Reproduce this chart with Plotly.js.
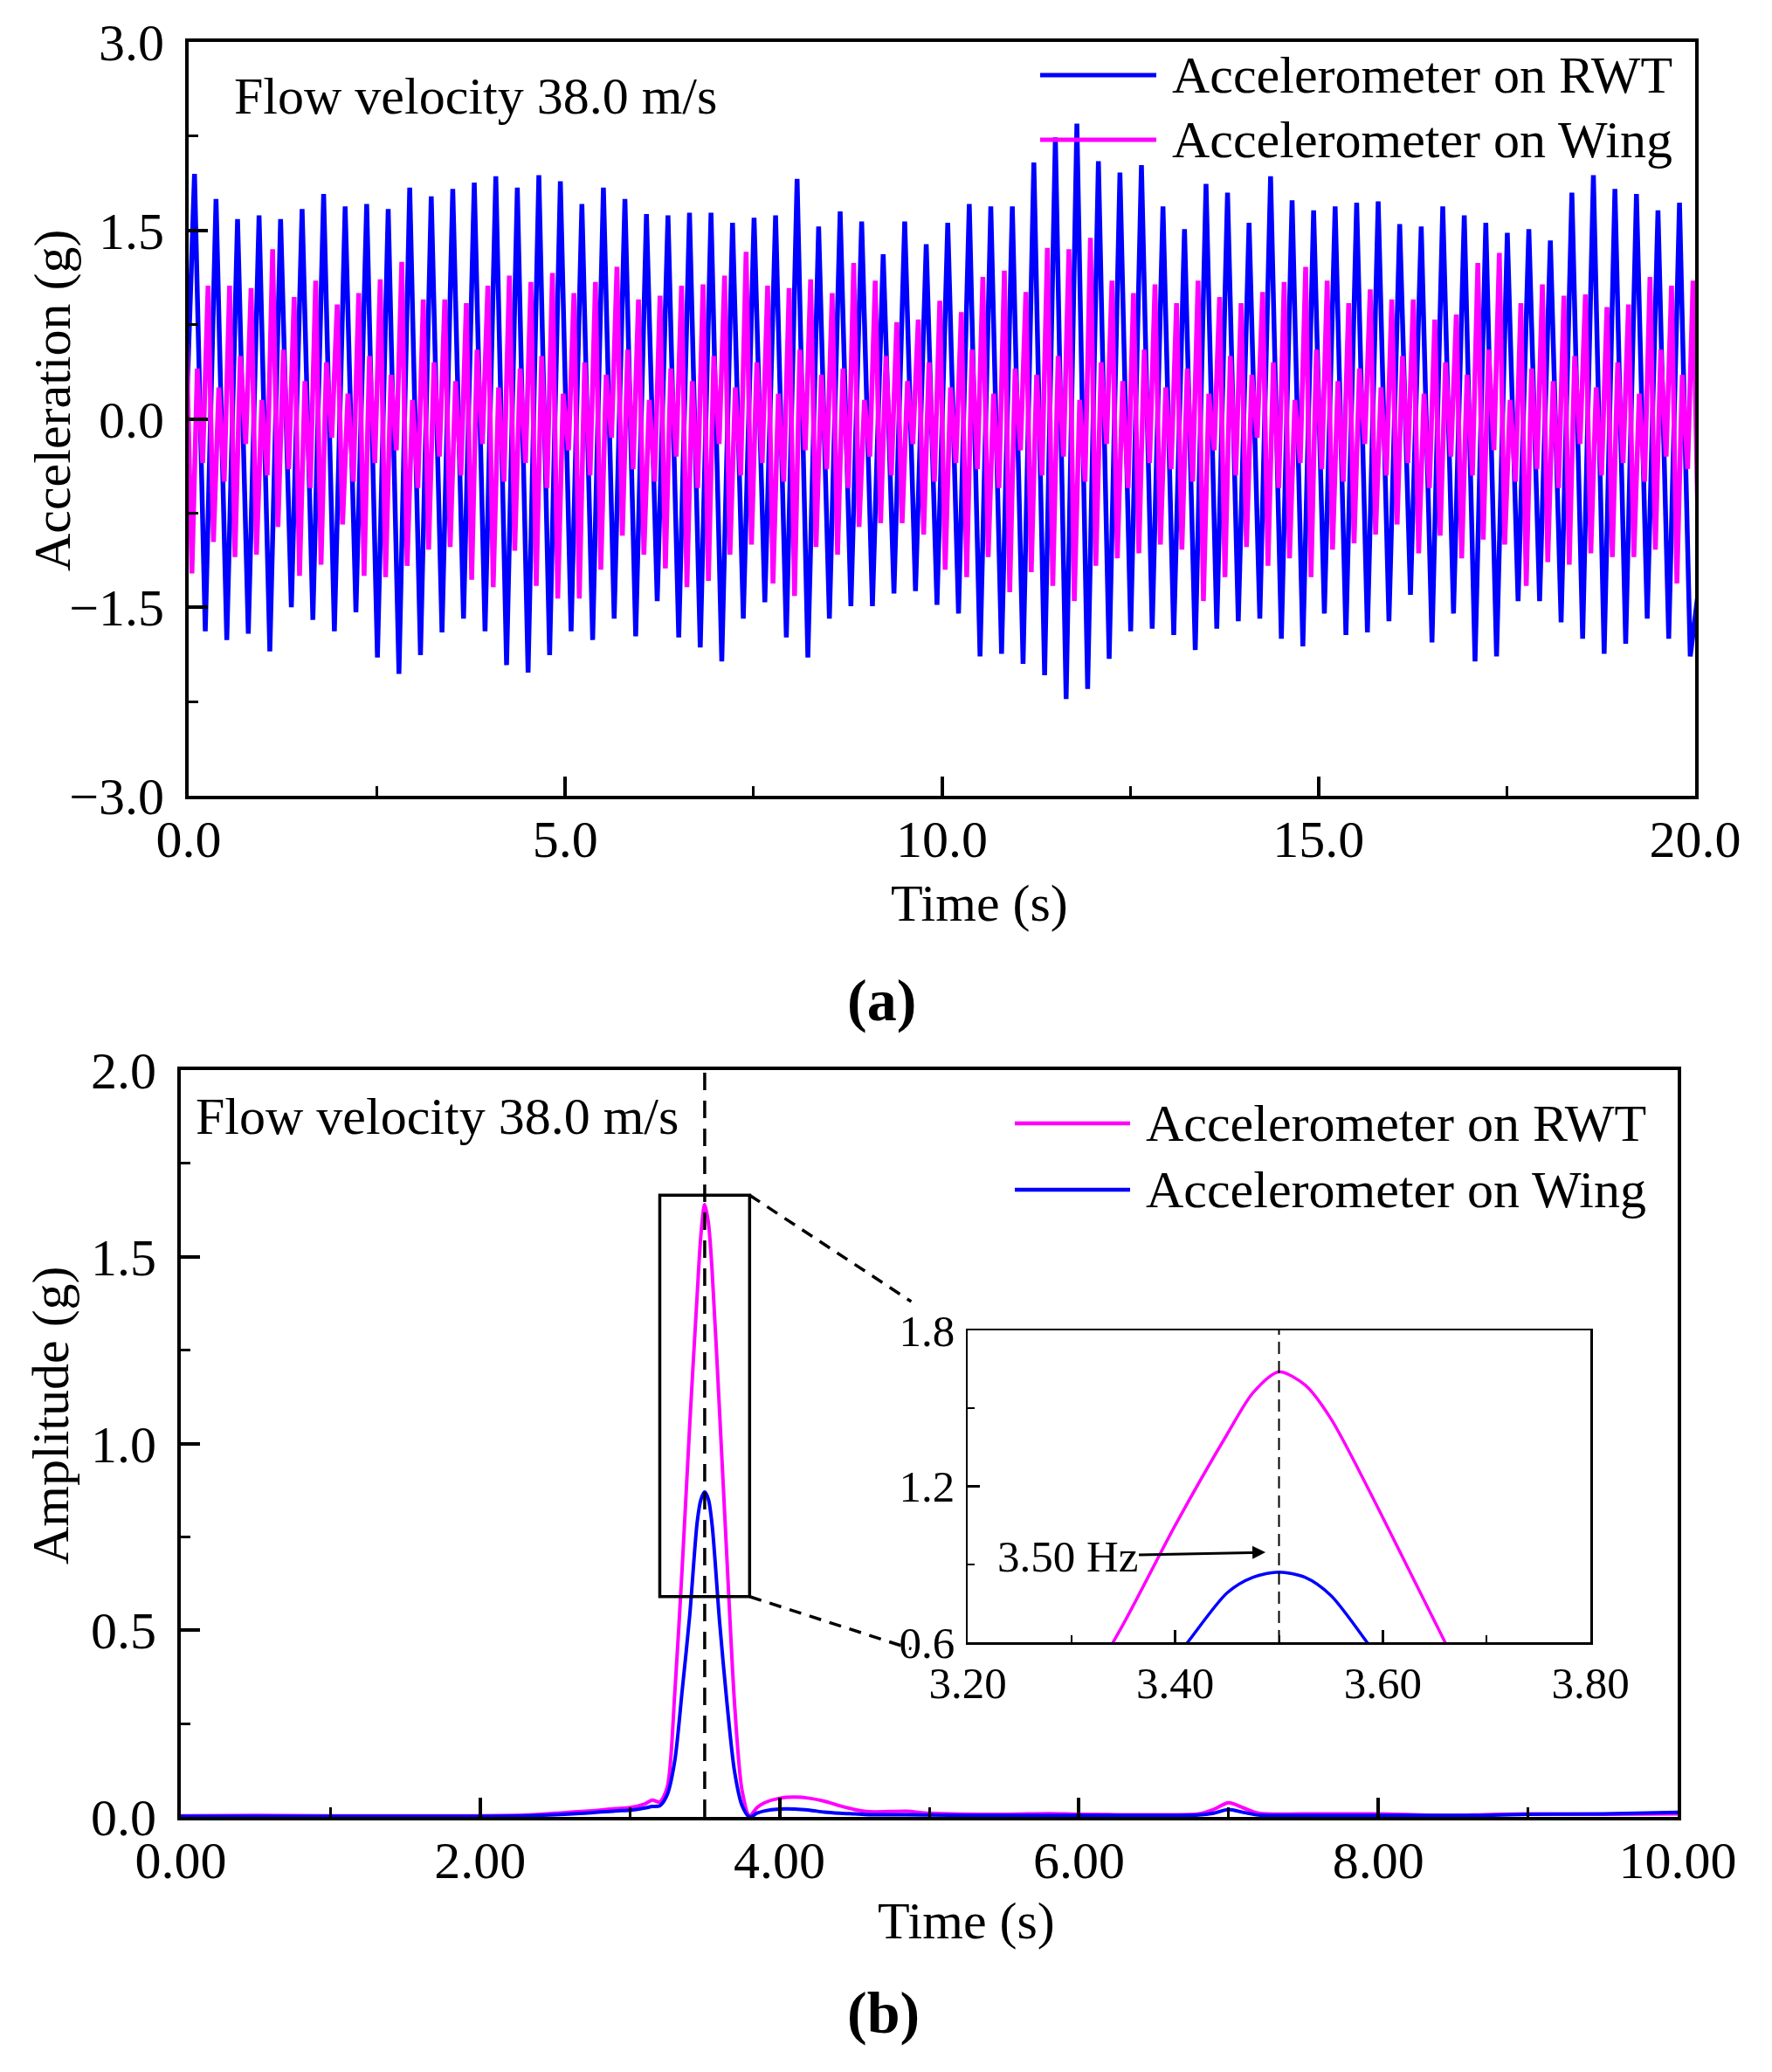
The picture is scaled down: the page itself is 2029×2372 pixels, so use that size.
<!DOCTYPE html>
<html>
<head>
<meta charset="utf-8">
<script src="https://cdn.plot.ly/plotly-3.0.1.min.js"></script>
<style>
  body { margin: 0; background: white; }
  #graph { width: 2029px; height: 2372px; }
</style>
</head>
<body>
<div id="graph"></div>
<script>
// ---- (a) time history, sampled at the extrema of each cycle ----
const rwtStart = -0.065;
const rwtStep = 0.142857;    // one value per half cycle
const wingStart = -0.028;
const wingStep = 0.0714286;  // four values per cycle

// Accelerometer on RWT: start, then peak/trough pairs
const rwtAcc = [
  -0.60,
  1.95, -1.69, 1.75, -1.76, 1.59, -1.71, 1.62, -1.85, 1.59, -1.50,
  1.67, -1.60, 1.79, -1.69, 1.69, -1.54, 1.71, -1.90, 1.67, -2.03,
  1.84, -1.88, 1.77, -1.70, 1.83, -1.59, 1.88, -1.69, 1.93, -1.96,
  1.84, -2.02, 1.94, -1.88, 1.89, -1.69, 1.71, -1.76, 1.84, -1.59,
  1.75, -1.73, 1.63, -1.45, 1.62, -1.74, 1.64, -1.82, 1.64, -1.93,
  1.56, -1.59, 1.60, -1.46, 1.62, -1.74, 1.91, -1.90, 1.53, -1.59,
  1.65, -1.49, 1.57, -1.49, 1.31, -1.39, 1.57, -1.37, 1.39, -1.48,
  1.56, -1.55, 1.71, -1.89, 1.69, -1.87, 1.69, -1.95, 2.04, -2.04,
  2.24, -2.23, 2.35, -2.15, 2.05, -1.91, 1.96, -1.69, 2.02, -1.67,
  1.69, -1.72, 1.51, -1.84, 1.87, -1.67, 1.80, -1.61, 1.56, -1.59,
  1.93, -1.75, 1.74, -1.81, 1.66, -1.55, 1.69, -1.72, 1.72, -1.70,
  1.73, -1.61, 1.55, -1.40, 1.53, -1.78, 1.69, -1.55, 1.62, -1.93,
  1.56, -1.89, 1.48, -1.45, 1.51, -1.45, 1.42, -1.62, 1.80, -1.75,
  1.94, -1.87, 1.83, -1.79, 1.79, -1.59, 1.66, -1.75, 1.72, -1.89,
  -1.20
];

// Accelerometer on Wing: per cycle big trough, small peak, small trough, big peak
const wingAcc = [
  0.60,
  -1.23, 0.40, -0.35, 1.06,   -0.98, 0.25, -0.50, 1.06,
  -1.10, 0.50, -0.20, 1.04,   -1.08, 0.15, -0.45, 1.35,
  -0.86, 0.55, -0.40, 0.97,   -1.25, 0.30, -0.55, 1.10,
  -1.16, 0.45, -0.15, 0.91,   -0.84, 0.20, -0.50, 1.00,
  -1.25, 0.50, -0.35, 1.11,   -1.26, 0.35, -0.25, 1.25,
  -1.17, 0.15, -0.55, 0.95,   -1.04, 0.45, -0.30, 0.95,
  -1.02, 0.30, -0.45, 0.92,   -1.28, 0.55, -0.20, 1.06,
  -1.34, 0.25, -0.50, 1.14,   -1.05, 0.40, -0.35, 1.09,
  -1.33, 0.50, -0.55, 1.16,   -1.43, 0.20, -0.25, 1.00,
  -1.43, 0.45, -0.45, 1.09,   -1.20, 0.35, -0.15, 1.21,
  -0.93, 0.55, -0.40, 0.95,   -1.08, 0.15, -0.50, 0.98,
  -1.19, 0.40, -0.30, 1.06,   -1.34, 0.30, -0.55, 1.07,
  -1.29, 0.50, -0.20, 1.14,   -1.08, 0.25, -0.45, 1.33,
  -1.00, 0.45, -0.35, 1.06,   -1.31, 0.20, -0.50, 1.04,
  -1.41, 0.55, -0.25, 1.11,   -1.02, 0.35, -0.40, 1.00,
  -1.08, 0.40, -0.55, 1.24,   -0.86, 0.15, -0.30, 1.10,
  -0.83, 0.50, -0.45, 0.77,   -0.83, 0.30, -0.20, 0.79,
  -0.92, 0.45, -0.50, 0.94,
  -1.20, 0.25, -0.35, 0.85,   -1.26, 0.55, -0.40, 1.13,
  -1.10, 0.20, -0.55, 1.18,   -1.38, 0.40, -0.25, 1.01,
  -1.22, 0.35, -0.45, 1.36,   -1.33, 0.50, -0.30, 1.35,
  -1.45, 0.15, -0.50, 1.44,   -1.17, 0.45, -0.20, 1.10,
  -1.11, 0.30, -0.55, 1.00,   -1.07, 0.55, -0.35, 1.07,
  -1.00, 0.25, -0.40, 0.92,   -1.04, 0.40, -0.50, 1.10,
  -1.45, 0.20, -0.25, 0.97,   -1.26, 0.50, -0.45, 0.92,
  -1.02, 0.35, -0.15, 1.01,   -1.17, 0.45, -0.55, 1.09,
  -1.11, 0.15, -0.35, 1.21,   -1.26, 0.55, -0.40, 1.10,
  -1.04, 0.30, -0.50, 0.92,   -0.99, 0.40, -0.20, 1.03,
  -0.92, 0.25, -0.45, 0.95,   -0.84, 0.50, -0.35, 0.95,
  -1.07, 0.20, -0.55, 0.79,   -0.93, 0.45, -0.30, 0.83,
  -1.11, 0.35, -0.45, 1.24,   -0.96, 0.55, -0.25, 1.32,
  -1.00, 0.15, -0.50, 0.92,   -1.33, 0.40, -0.40, 1.07,
  -1.14, 0.30, -0.55, 0.98,   -1.16, 0.50, -0.20, 0.99,
  -1.07, 0.25, -0.45, 0.89,   -1.10, 0.45, -0.35, 0.91,
  -1.10, 0.20, -0.50, 1.13,   -1.04, 0.55, -0.30, 1.06,
  -1.31, 0.35, -0.40, 1.10,
  -1.00
];

// ---- (b) amplitude spectrum ----
const freq = [0, 0.5, 1.0, 1.5, 2.0, 2.3, 2.5, 2.7, 2.9, 3.0,
  3.1, 3.15, 3.2, 3.25, 3.3, 3.35, 3.4, 3.45, 3.475, 3.5, 3.525, 3.55,
  3.6, 3.65, 3.7, 3.75, 3.8, 3.85, 3.9, 4.0, 4.1, 4.2,
  4.3, 4.4, 4.5, 4.6, 4.85, 5.0, 5.5, 5.8, 6.0, 6.5,
  6.8, 6.9, 7.0, 7.1, 7.2, 7.5, 8.0, 8.5, 8.7, 9.0, 9.5, 10.0];
const rwtAmp = [0.003, 0.004, 0.003, 0.003, 0.003, 0.005, 0.010, 0.015, 0.022, 0.025,
  0.035, 0.045, 0.040, 0.080, 0.33, 0.67, 1.05, 1.40, 1.56, 1.64, 1.59, 1.46,
  1.08, 0.68, 0.30, 0.07, 0.003, 0.025, 0.038, 0.050, 0.053, 0.050,
  0.042, 0.030, 0.020, 0.014, 0.015, 0.010, 0.007, 0.009, 0.007, 0.006,
  0.008, 0.020, 0.038, 0.024, 0.010, 0.008, 0.008, 0.004, 0.006, 0.008, 0.007, 0.008];
const wingAmp = [0.002, 0.002, 0.002, 0.002, 0.002, 0.003, 0.006, 0.010, 0.016, 0.018,
  0.024, 0.028, 0.030, 0.060, 0.15, 0.34, 0.54, 0.79, 0.85, 0.87, 0.85, 0.78,
  0.52, 0.30, 0.12, 0.03, 0.0, 0.010, 0.016, 0.021, 0.021, 0.018,
  0.013, 0.010, 0.008, 0.006, 0.006, 0.005, 0.004, 0.004, 0.004, 0.004,
  0.005, 0.010, 0.020, 0.012, 0.005, 0.004, 0.004, 0.004, 0.004, 0.007, 0.008, 0.012];

const peakFreq = 3.5;
const zoomBox = { x0: 3.2, x1: 3.8, y0: 0.59, y1: 1.665 };

const W = 2029, H = 2372;
const BLUE = '#0000ff', PINK = '#ff00ff';
const FONT = 'Liberation Serif, Times New Roman, serif';
const TXT = 60;
const px = v => v / W;
const py = v => 1 - v / H;

const traces = [
  { x0: rwtStart, dx: rwtStep, y: rwtAcc, type: 'scatter', mode: 'lines',
    name: 'Accelerometer on RWT', line: { color: BLUE, width: 5.5 }, xaxis: 'x', yaxis: 'y' },
  { x0: wingStart, dx: wingStep, y: wingAcc, type: 'scatter', mode: 'lines',
    name: 'Accelerometer on Wing', line: { color: PINK, width: 5.5 }, xaxis: 'x', yaxis: 'y' },
  { x: freq, y: rwtAmp, type: 'scatter', mode: 'lines', name: 'Accelerometer on RWT',
    line: { color: PINK, width: 4, shape: 'spline', smoothing: 0.8 }, xaxis: 'x2', yaxis: 'y2' },
  { x: freq, y: wingAmp, type: 'scatter', mode: 'lines', name: 'Accelerometer on Wing',
    line: { color: BLUE, width: 4, shape: 'spline', smoothing: 0.8 }, xaxis: 'x2', yaxis: 'y2' },
  { x: freq, y: rwtAmp, type: 'scatter', mode: 'lines', name: 'RWT (zoom)',
    line: { color: PINK, width: 3.5, shape: 'spline', smoothing: 0.8 }, xaxis: 'x3', yaxis: 'y3' },
  { x: freq, y: wingAmp, type: 'scatter', mode: 'lines', name: 'Wing (zoom)',
    line: { color: BLUE, width: 3.5, shape: 'spline', smoothing: 0.8 }, xaxis: 'x3', yaxis: 'y3' }
];

function axis(extra, size, lw) {
  return Object.assign({
    showline: true, mirror: true, linecolor: 'black', linewidth: lw,
    ticks: 'inside', ticklen: size > 52 ? 22 : 14, tickwidth: lw, tickcolor: 'black',
    showgrid: false, zeroline: false, fixedrange: true,
    tickfont: { family: FONT, size: size, color: 'black' }
  }, extra);
}

function label(text, x, y, opts) {
  return Object.assign({
    text: text, xref: 'paper', yref: 'paper', x: px(x), y: py(y),
    xanchor: 'left', yanchor: 'middle', showarrow: false,
    font: { family: FONT, size: TXT, color: 'black' }
  }, opts || {});
}

const layout = {
  width: W, height: H,
  margin: { l: 0, r: 0, t: 0, b: 0 },
  paper_bgcolor: 'white', plot_bgcolor: 'white',
  font: { family: FONT, color: 'black' },
  showlegend: false,
  xaxis: axis({ domain: [px(216), px(1941)], anchor: 'y', range: [0, 20], tick0: 0, dtick: 5,
    tickformat: '.1f', ticklabelstandoff: -6,
    minor: { dtick: 2.5, ticks: 'inside', ticklen: 11, tickwidth: 3, tickcolor: 'black' } }, TXT, 4),
  yaxis: axis({ domain: [py(911), py(48)], anchor: 'x', range: [-3, 3], tick0: 0, dtick: 1.5,
    tickformat: '.1f', ticklabelstandoff: 12,
    minor: { dtick: 0.75, ticks: 'inside', ticklen: 11, tickwidth: 3, tickcolor: 'black' } }, TXT, 4),
  xaxis2: axis({ domain: [px(207), px(1921)], anchor: 'y2', range: [0, 10], tick0: 0, dtick: 2,
    tickformat: '.2f', ticklabelstandoff: -6,
    minor: { dtick: 1, ticks: 'inside', ticklen: 11, tickwidth: 3, tickcolor: 'black' } }, TXT, 4),
  yaxis2: axis({ domain: [py(2080), py(1225)], anchor: 'x2', range: [0, 2], tick0: 0, dtick: 0.5,
    tickformat: '.1f', ticklabelstandoff: 12,
    minor: { dtick: 0.25, ticks: 'inside', ticklen: 11, tickwidth: 3, tickcolor: 'black' } }, TXT, 4),
  xaxis3: axis({ domain: [px(1108), px(1821)], anchor: 'y3', range: [3.2, 3.8], tick0: 3.2, dtick: 0.2,
    tickformat: '.2f', ticklabelstandoff: 0,
    minor: { dtick: 0.1, ticks: 'inside', ticklen: 8, tickwidth: 2, tickcolor: 'black' } }, 51, 2.5),
  yaxis3: axis({ domain: [py(1880), py(1523)], anchor: 'x3', range: [0.6, 1.8], tick0: 0.6, dtick: 0.6,
    tickformat: '.1f', ticklabelstandoff: 2,
    minor: { dtick: 0.3, ticks: 'inside', ticklen: 8, tickwidth: 2, tickcolor: 'black' } }, 51, 2.5),
  shapes: [
    // legend samples
    { type: 'line', xref: 'paper', yref: 'paper', x0: px(1191), x1: px(1324), y0: py(86), y1: py(86), line: { color: BLUE, width: 5 } },
    { type: 'line', xref: 'paper', yref: 'paper', x0: px(1191), x1: px(1324), y0: py(160), y1: py(160), line: { color: PINK, width: 5 } },
    { type: 'line', xref: 'paper', yref: 'paper', x0: px(1162), x1: px(1294), y0: py(1286), y1: py(1286), line: { color: PINK, width: 4.5 } },
    { type: 'line', xref: 'paper', yref: 'paper', x0: px(1162), x1: px(1294), y0: py(1362), y1: py(1362), line: { color: BLUE, width: 4.5 } },
    // peak marker and zoom box
    { type: 'line', xref: 'x2', yref: 'y2', x0: peakFreq, x1: peakFreq, y0: 0, y1: 2, line: { color: 'black', width: 3.5, dash: '20px,12px' } },
    { type: 'rect', xref: 'x2', yref: 'y2', x0: zoomBox.x0, x1: zoomBox.x1, y0: zoomBox.y0, y1: zoomBox.y1, line: { color: 'black', width: 3.5 } },
    { type: 'line', xref: 'x2', yref: 'y2', x0: zoomBox.x1, x1: 4.88, y0: zoomBox.y1, y1: 1.38, line: { color: 'black', width: 3.5, dash: '14px,10px' } },
    { type: 'line', xref: 'x2', yref: 'y2', x0: zoomBox.x1, x1: 4.88, y0: zoomBox.y0, y1: 0.45, line: { color: 'black', width: 3.5, dash: '14px,10px' } },
    { type: 'line', xref: 'x3', yref: 'y3', x0: peakFreq, x1: peakFreq, y0: 0.6, y1: 1.8, line: { color: 'black', width: 2, dash: '14px,8px' } }
  ],
  annotations: [
    label('Flow velocity 38.0 m/s', 266, 110),
    label('Accelerometer on RWT', 1340, 86),
    label('Accelerometer on Wing', 1340, 160),
    label('Acceleration (g)', 60, 459, { xanchor: 'center', textangle: -90 }),
    label('Time (s)', 1121, 1034, { xanchor: 'center' }),
    label('<b>(a)</b>', 1009, 1145, { xanchor: 'center', font: { family: FONT, size: 68, color: 'black' } }),
    label('Flow velocity 38.0 m/s', 222, 1278),
    label('Accelerometer on RWT', 1310, 1286),
    label('Accelerometer on Wing', 1310, 1362),
    label('Amplitude (g)', 58, 1620, { xanchor: 'center', textangle: -90 }),
    label('Time (s)', 1106, 2199, { xanchor: 'center' }),
    label('<b>(b)</b>', 1011, 2304, { xanchor: 'center', font: { family: FONT, size: 68, color: 'black' } }),
    { text: '3.50 Hz', xref: 'x3', yref: 'y3', x: 3.487, y: 0.946, axref: 'x3', ayref: 'y3', ax: 3.296, ay: 0.93,
      showarrow: true, arrowhead: 2, arrowsize: 1, arrowwidth: 3, arrowcolor: 'black',
      font: { family: FONT, size: 51, color: 'black' } }
  ]
};

Plotly.newPlot('graph', traces, layout, { staticPlot: true });
</script>
</body>
</html>
